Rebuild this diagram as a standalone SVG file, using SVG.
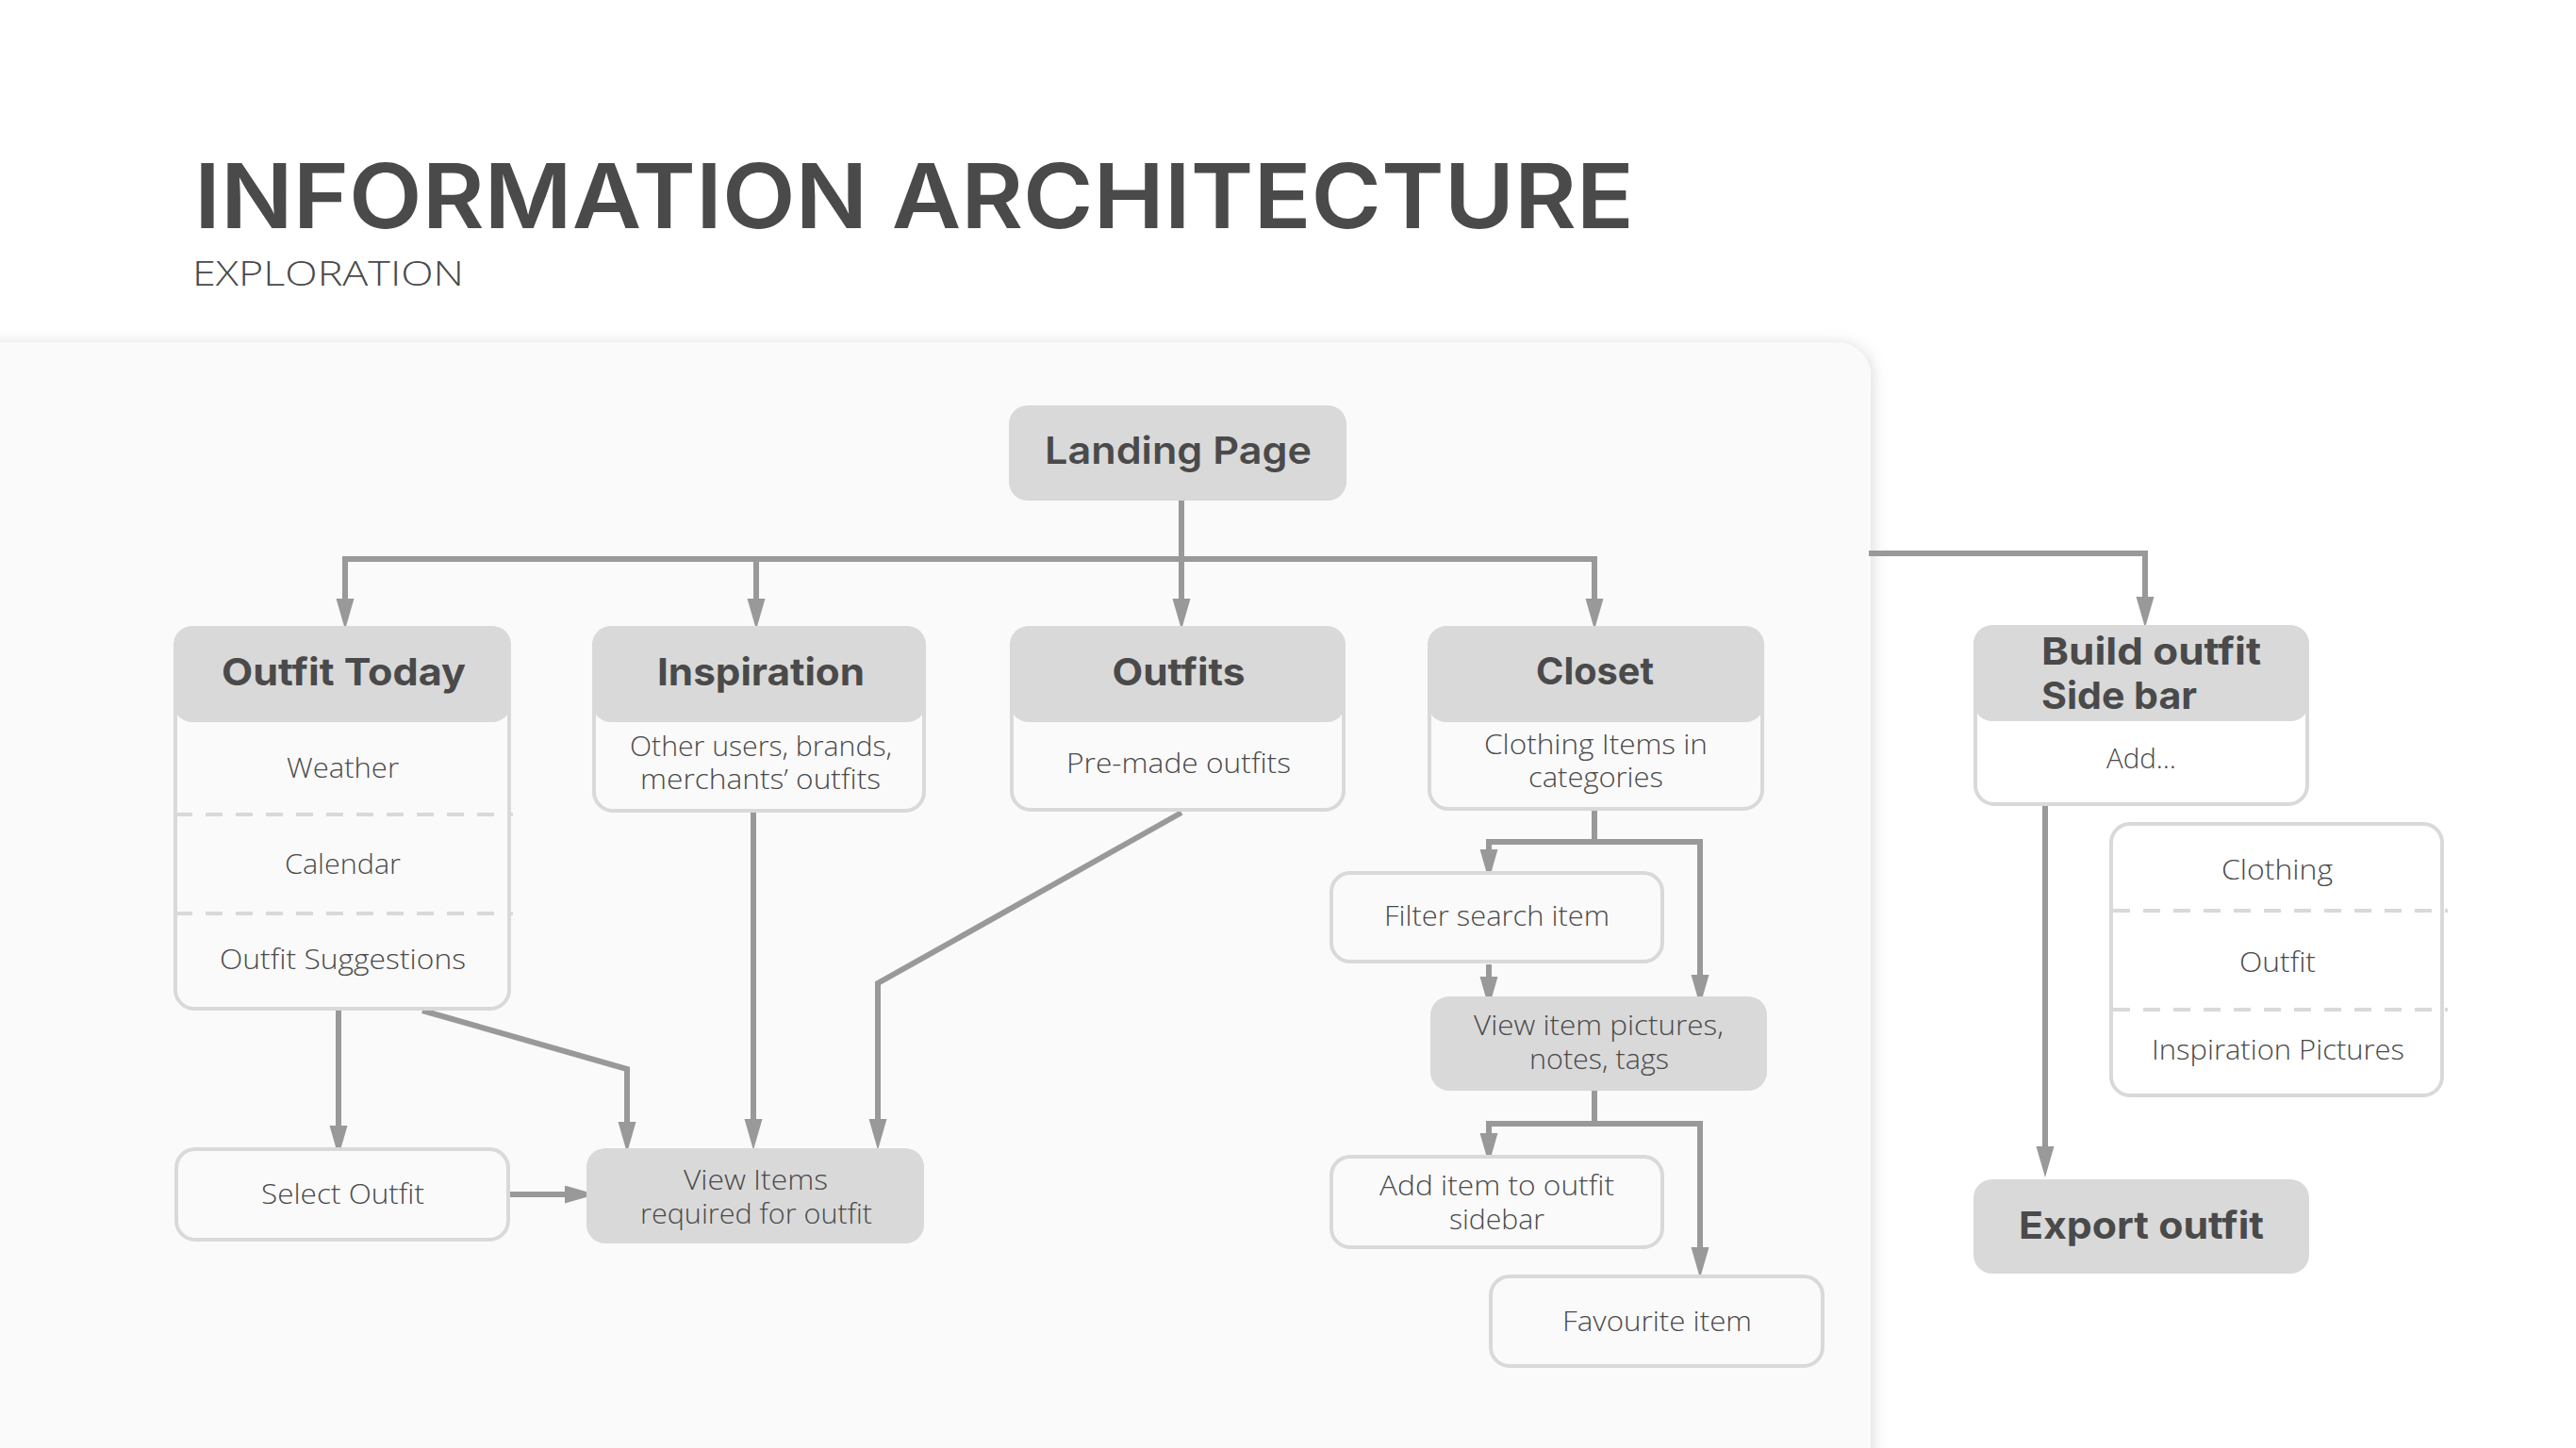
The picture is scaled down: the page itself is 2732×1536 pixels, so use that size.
<svg xmlns="http://www.w3.org/2000/svg" width="2732" height="1536" viewBox="0 0 2732 1536">
<defs>
<style>
text{font-family:Inter,"Open Sans","Liberation Sans",sans-serif;fill:#4a4a4a}
.t{font-size:95px;font-weight:600}
.st{font-size:37px;font-weight:300;font-family:"Open Sans",Lato,Inter,sans-serif}
.h{font-size:40px;font-weight:700;text-anchor:middle}
.hl{font-size:40px;font-weight:700}
.lp{font-size:40px;font-weight:600;text-anchor:middle}
.b{font-size:29px;font-weight:300;text-anchor:middle;font-family:"Open Sans",Lato,Inter,sans-serif}
.fill{fill:#d9d9d9}
.box{fill:#fafafa;stroke:#d9d9d9;stroke-width:4}
.boxw{fill:#ffffff;stroke:#d9d9d9;stroke-width:4}
.dash{stroke:#d9d9d9;stroke-width:4;stroke-dasharray:18 14;fill:none}
.c{fill:none;stroke:#999999;stroke-width:6;stroke-linejoin:miter}
.a{marker-end:url(#arr)}
.s{marker-start:url(#arr)}
</style>
<marker id="arr" markerUnits="userSpaceOnUse" markerWidth="34" markerHeight="20" refX="0" refY="9.5" orient="auto-start-reverse">
<path d="M0,0 L33,9.5 L0,19 Z" fill="#999999"/>
</marker>
<filter id="sh" x="-5%" y="-5%" width="110%" height="110%">
<feDropShadow dx="3" dy="1" stdDeviation="8" flood-color="#000" flood-opacity="0.13"/>
</filter>
</defs>
<rect width="2732" height="1536" fill="#ffffff"/>
<g id="title">
<text class="t" x="206" y="242" textLength="1527" lengthAdjust="spacingAndGlyphs">INFORMATION ARCHITECTURE</text>
<text class="st" x="204" y="303" textLength="288" lengthAdjust="spacingAndGlyphs">EXPLORATION</text>
</g>
<rect id="panel" x="-60" y="363" width="2044" height="1300" rx="36" fill="#fafafa" filter="url(#sh)"/>

<g id="connectors">
<path class="c a" d="M1253,531 V635"/>
<path class="c s a" d="M366,635 V593 H1691 V635"/>
<path class="c a" d="M802,593 V635"/>
<path class="c a" d="M359,1072 V1194"/>
<path class="c a" d="M448,1072 L665,1134 V1190"/>
<path class="c a" d="M799,862 V1187"/>
<path class="c a" d="M1253,862 L931,1043 V1187"/>
<path class="c a" d="M538,1267 H599"/>
<path class="c" d="M1691,859 V893"/>
<path class="c s a" d="M1579,901 V893 H1803 V1034"/>
<path class="c a" d="M1579,1023 V1036"/>
<path class="c" d="M1691,1157 V1192"/>
<path class="c s a" d="M1579,1202 V1192 H1803 V1323"/>
<path class="c a" d="M1982,587 H2275 V633"/>
<path class="c a" d="M2169,855 V1216"/>
</g>

<g id="landing-page">
<rect class="fill" x="1070" y="430" width="358" height="101" rx="20"/>
<text class="lp" x="1249.5" y="492" textLength="283" lengthAdjust="spacingAndGlyphs">Landing Page</text>
</g>

<g id="outfit-today">
<rect class="box" x="186" y="666" width="354" height="404" rx="20"/>
<rect class="fill" x="184" y="664" width="358" height="102" rx="20"/>
<path class="dash" d="M186,864 H544 M186,969 H544"/>
<text class="h" x="364.5" y="727" textLength="259" lengthAdjust="spacingAndGlyphs">Outfit Today</text>
<text class="b" x="363.5" y="825" textLength="119" lengthAdjust="spacingAndGlyphs">Weather</text>
<text class="b" x="363.5" y="927" textLength="123" lengthAdjust="spacingAndGlyphs">Calendar</text>
<text class="b" x="363.5" y="1028" textLength="261" lengthAdjust="spacingAndGlyphs">Outfit Suggestions</text>
</g>

<g id="inspiration">
<rect class="box" x="630" y="666" width="350" height="194" rx="20"/>
<rect class="fill" x="628" y="664" width="354" height="102" rx="20"/>
<text class="h" x="807" y="727" textLength="220" lengthAdjust="spacingAndGlyphs">Inspiration</text>
<text class="b" x="807" y="802" textLength="278" lengthAdjust="spacingAndGlyphs">Other users, brands,</text>
<text class="b" x="806.5" y="837" textLength="255" lengthAdjust="spacingAndGlyphs">merchants’ outfits</text>
</g>

<g id="outfits">
<rect class="box" x="1073" y="666" width="352" height="193" rx="20"/>
<rect class="fill" x="1071" y="664" width="356" height="102" rx="20"/>
<text class="h" x="1250" y="727" textLength="141" lengthAdjust="spacingAndGlyphs">Outfits</text>
<text class="b" x="1250" y="820" textLength="238" lengthAdjust="spacingAndGlyphs">Pre-made outfits</text>
</g>

<g id="closet">
<rect class="box" x="1516" y="666" width="353" height="192" rx="20"/>
<rect class="fill" x="1514" y="664" width="357" height="102" rx="20"/>
<text class="h" x="1691.5" y="726" textLength="125" lengthAdjust="spacingAndGlyphs">Closet</text>
<text class="b" x="1692.5" y="800" textLength="237" lengthAdjust="spacingAndGlyphs">Clothing Items in</text>
<text class="b" x="1692.5" y="835" textLength="143" lengthAdjust="spacingAndGlyphs">categories</text>
</g>

<g id="select-outfit">
<rect class="box" x="187" y="1219" width="352" height="96" rx="20"/>
<text class="b" x="363.5" y="1277" textLength="173" lengthAdjust="spacingAndGlyphs">Select Outfit</text>
</g>

<g id="view-items">
<rect class="fill" x="622" y="1218" width="358" height="101" rx="20"/>
<text class="b" x="801.5" y="1262" textLength="153" lengthAdjust="spacingAndGlyphs">View Items</text>
<text class="b" x="802" y="1298" textLength="246" lengthAdjust="spacingAndGlyphs">required for outfit</text>
</g>

<g id="filter-search">
<rect class="box" x="1412" y="926" width="351" height="94" rx="20"/>
<text class="b" x="1587.5" y="982" textLength="239" lengthAdjust="spacingAndGlyphs">Filter search item</text>
</g>

<g id="view-item-pictures">
<rect class="fill" x="1517" y="1057" width="357" height="100" rx="20"/>
<text class="b" x="1695.5" y="1098" textLength="265" lengthAdjust="spacingAndGlyphs">View item pictures,</text>
<text class="b" x="1696" y="1134" textLength="148" lengthAdjust="spacingAndGlyphs">notes, tags</text>
</g>

<g id="add-item">
<rect class="box" x="1412" y="1227" width="351" height="96" rx="20"/>
<text class="b" x="1587.5" y="1268" textLength="249" lengthAdjust="spacingAndGlyphs">Add item to outfit</text>
<text class="b" x="1587.5" y="1304" textLength="101" lengthAdjust="spacingAndGlyphs">sidebar</text>
</g>

<g id="favourite-item">
<rect class="box" x="1581" y="1354" width="352" height="95" rx="20"/>
<text class="b" x="1757.5" y="1412" textLength="201" lengthAdjust="spacingAndGlyphs">Favourite item</text>
</g>

<g id="build-outfit">
<rect class="boxw" x="2095" y="665" width="352" height="188" rx="20"/>
<rect class="fill" x="2093" y="663" width="356" height="102" rx="20"/>
<text class="hl" x="2165" y="705" textLength="233" lengthAdjust="spacingAndGlyphs">Build outfit</text>
<text class="hl" x="2165" y="752" textLength="165" lengthAdjust="spacingAndGlyphs">Side bar</text>
<text class="b" x="2271" y="815" textLength="74" lengthAdjust="spacingAndGlyphs">Add…</text>
</g>

<g id="add-options">
<rect class="boxw" x="2239" y="874" width="351" height="288" rx="20"/>
<path class="dash" d="M2241,966 H2596 M2241,1071 H2596"/>
<text class="b" x="2415" y="933" textLength="118" lengthAdjust="spacingAndGlyphs">Clothing</text>
<text class="b" x="2415.5" y="1031" textLength="81" lengthAdjust="spacingAndGlyphs">Outfit</text>
<text class="b" x="2416" y="1124" textLength="268" lengthAdjust="spacingAndGlyphs">Inspiration Pictures</text>
</g>

<g id="export-outfit">
<rect class="fill" x="2093" y="1251" width="356" height="100" rx="20"/>
<text class="h" x="2271" y="1314" textLength="260" lengthAdjust="spacingAndGlyphs">Export outfit</text>
</g>
</svg>
